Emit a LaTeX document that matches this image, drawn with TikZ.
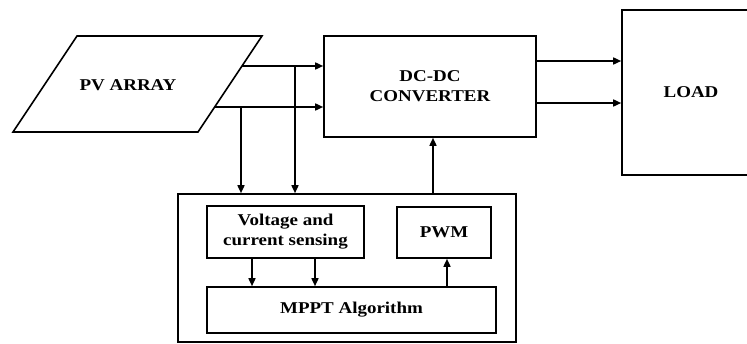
\documentclass[tikz,border=0pt]{standalone}
\usepackage{fontspec}
\setmainfont[FakeStretch=1.15]{Liberation Serif}
\usetikzlibrary{arrows.meta}
\begin{document}
\begin{tikzpicture}[x=1pt,y=-1pt,
  line width=1.6pt,
  box/.style={draw,line width=1.6pt,inner sep=0pt,align=center,font=\fontsize{16.5}{20}\selectfont\bfseries},
  lbl/.style={inner sep=0pt,align=center,font=\fontsize{16.5}{20}\selectfont\bfseries},
  arr/.style={-{Triangle[length=8pt,width=7pt]},line width=1.6pt}]
\useasboundingbox (0,0) rectangle (747,343);
% PV array parallelogram
\coordinate (p1) at (13,132);
\coordinate (p2) at (77,36);
\coordinate (p3) at (262,36);
\coordinate (p4) at (198,132);
\draw[line width=1.6pt,line join=miter] (p1) -- (p2) -- (p3) -- (p4) -- cycle;
\node[lbl] (pv) at (128,85) {PV ARRAY};
% blocks
\node[box,minimum width=212pt,minimum height=101pt] (dc) at (430,86.5) {DC-DC\\CONVERTER};
\node[box,minimum width=138pt,minimum height=165pt] (load) at (691,92.5) {LOAD};
\node[box,minimum width=338pt,minimum height=148pt] (ctrl) at (347,268) {};
\node[box,minimum width=157pt,minimum height=52pt] (vs) at (285.5,232) {Voltage and\\current sensing};
\node[box,minimum width=94pt,minimum height=51pt] (pwm) at (444,232.5) {PWM};
\node[box,minimum width=289pt,minimum height=46pt] (mppt) at (351.5,310) {MPPT Algorithm};
% PV outputs
\coordinate (o1) at (242,66);
\coordinate (o2) at (214.7,107);
\draw[arr] (o1) -- (o1 -| dc.west);
\draw[arr] (o2) -- (o2 -| dc.west);
\coordinate (b1) at (295,66);
\coordinate (b2) at (241,107);
\draw[arr] (b1) -- (b1 |- ctrl.north);
\draw[arr] (b2) -- (b2 |- ctrl.north);
% DC-DC to load
\coordinate (l1) at (536,61);
\coordinate (l2) at (536,103);
\draw[arr] (l1 -| dc.east) -- (l1 -| load.west);
\draw[arr] (l2 -| dc.east) -- (l2 -| load.west);
% PWM to DC-DC
\coordinate (u1) at (433,0);
\draw[arr] (u1 |- ctrl.north) -- (u1 |- dc.south);
% sensing to MPPT
\coordinate (s1) at (252,0);
\coordinate (s2) at (315,0);
\draw[arr] (s1 |- vs.south) -- (s1 |- mppt.north);
\draw[arr] (s2 |- vs.south) -- (s2 |- mppt.north);
% MPPT to PWM
\coordinate (m1) at (447,0);
\draw[arr] (m1 |- mppt.north) -- (m1 |- pwm.south);
\end{tikzpicture}
\end{document}
